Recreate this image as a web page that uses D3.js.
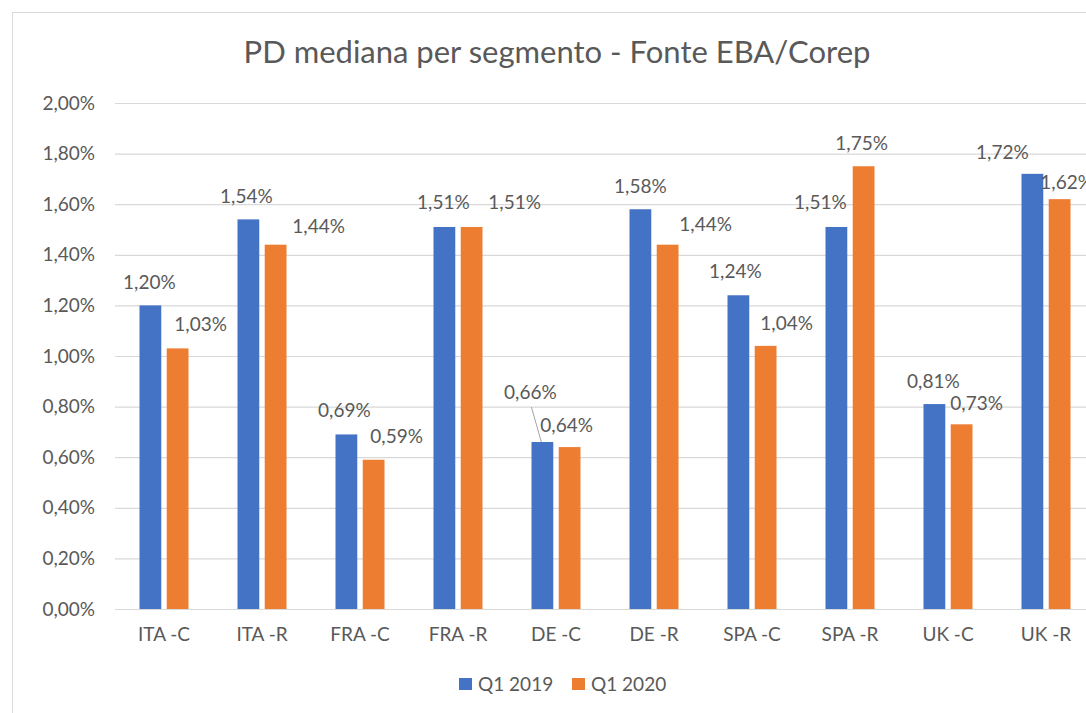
<!DOCTYPE html>
<html>
<head>
<meta charset="utf-8">
<script src="https://cdn.jsdelivr.net/npm/d3@7"></script>
<style>
  body { margin: 0; background: #fff; }
  text { font-family: Lato, "Open Sans", sans-serif; fill: #595959; }
</style>
</head>
<body>
<svg width="1086" height="713"></svg>
<script>
const categories = ["ITA -C", "ITA -R", "FRA -C", "FRA -R", "DE -C", "DE -R", "SPA -C", "SPA -R", "UK -C", "UK -R"]
const seriesNames = ["Q1 2019", "Q1 2020"]
const q1_2019 = [1.20, 1.54, 0.69, 1.51, 0.66, 1.58, 1.24, 1.51, 0.81, 1.72]
const q1_2020 = [1.03, 1.44, 0.59, 1.51, 0.64, 1.44, 1.04, 1.75, 0.73, 1.62]
const yTicks = [0, 0.2, 0.4, 0.6, 0.8, 1.0, 1.2, 1.4, 1.6, 1.8, 2.0]
const colors = ["#4472c4", "#ed7d31"]

// label nudges (dx, dy) as placed in the original sheet
const nudge2019 = [[-1,0],[-2,0],[-2,-1],[-1,-2],[-12,-27],[0,0],[-3,-1],[-16,-2],[-1,0],[-30,2]]
const nudge2020 = [[23,-1],[43,5],[23,0],[43,-2],[-3,1],[38,3],[21,0],[-2,0],[15,2],[7,6]]

const DATA = categories.map((c, i) => ({cat: c, values: [q1_2019[i], q1_2020[i]]}))
const fmt = v => d3.format(".2f")(v).replace(".", ",") + "%"

const svg = d3.select("svg")

svg.append("rect")
  .attr("x", 12.5).attr("y", 12.5)
  .attr("width", 1100).attr("height", 720)
  .attr("fill", "#fff").attr("stroke", "#d9d9d9")

const x0 = d3.scaleBand()
  .domain(categories)
  .range([115, 1095])
  .paddingInner(0.5)
  .paddingOuter(0.25)

const x1 = d3.scaleBand()
  .domain(seriesNames)
  .range([0, x0.bandwidth()])
  .paddingInner(0.2)

const y = d3.scaleLinear()
  .domain([0, 2])
  .range([609, 103])

// gridlines + y labels
const yAxis = svg.append("g")
  .attr("transform", "translate(115,0)")
  .call(d3.axisLeft(y).tickValues(yTicks).tickSize(-980).tickPadding(20)
    .tickFormat(fmt))
yAxis.select(".domain").remove()
yAxis.selectAll("line").attr("stroke", "#d9d9d9").attr("stroke-width", 1.2)
yAxis.selectAll("text").attr("font-size", 19).attr("fill", "#595959")
  .attr("font-family", "Lato, sans-serif")

// x labels
const xAxis = svg.append("g")
  .attr("transform", "translate(0,609)")
  .call(d3.axisBottom(x0).tickSize(0).tickPadding(19))
xAxis.select(".domain").attr("stroke", "#d9d9d9").attr("stroke-width", 1.2)
xAxis.selectAll("text").attr("font-size", 19).attr("fill", "#595959")
  .attr("font-family", "Lato, sans-serif")

// bars
const groups = svg.selectAll(".grp")
  .data(DATA)
  .enter()
  .append("g")
  .classed("grp", true)
  .attr("transform", d => "translate(" + x0(d.cat) + ",0)")

groups.selectAll("rect")
  .data(d => d.values.map((v, k) => ({s: seriesNames[k], v: v, k: k})))
  .enter()
  .append("rect")
  .attr("x", d => x1(d.s))
  .attr("width", x1.bandwidth())
  .attr("y", d => y(d.v))
  .attr("height", d => y(0) - y(d.v))
  .attr("fill", d => colors[d.k])

// data labels
const labels = []
DATA.forEach((d, i) => {
  d.values.forEach((v, k) => {
    const n = k === 0 ? nudge2019[i] : nudge2020[i]
    const bx = x0(d.cat) + x1(seriesNames[k]) + x1.bandwidth() / 2
    labels.push({v: v, bx: bx, by: y(v), lx: bx + n[0], ly: y(v) - 23 + n[1]})
  })
})

// leader lines for labels moved far from their bar
svg.selectAll(".leader")
  .data(labels.filter(l => l.by - l.ly > 35))
  .enter()
  .append("line")
  .attr("x1", l => l.lx + 1).attr("y1", l => l.ly + 15)
  .attr("x2", l => l.bx - 1).attr("y2", l => l.by)
  .attr("stroke", "#a6a6a6").attr("stroke-width", 1)

svg.selectAll(".lbl")
  .data(labels)
  .enter()
  .append("text")
  .attr("x", l => l.lx)
  .attr("y", l => l.ly)
  .attr("dy", "0.35em")
  .attr("text-anchor", "middle")
  .attr("font-size", 19)
  .text(l => fmt(l.v))

// title
svg.append("text")
  .attr("x", 557).attr("y", 63)
  .attr("text-anchor", "middle")
  .attr("font-size", 31)
  .text("PD mediana per segmento - Fonte EBA/Corep")

// legend
const legend = svg.selectAll(".leg")
  .data(seriesNames)
  .enter()
  .append("g")
  .attr("transform", (d, i) => "translate(" + (459 + i * 113) + ",678)")
legend.append("rect")
  .attr("width", 13).attr("height", 12)
  .attr("fill", (d, i) => colors[i])
legend.append("text")
  .attr("x", 19).attr("y", 6).attr("dy", "0.35em")
  .attr("font-size", 19)
  .text(d => d)
</script>
</body>
</html>
